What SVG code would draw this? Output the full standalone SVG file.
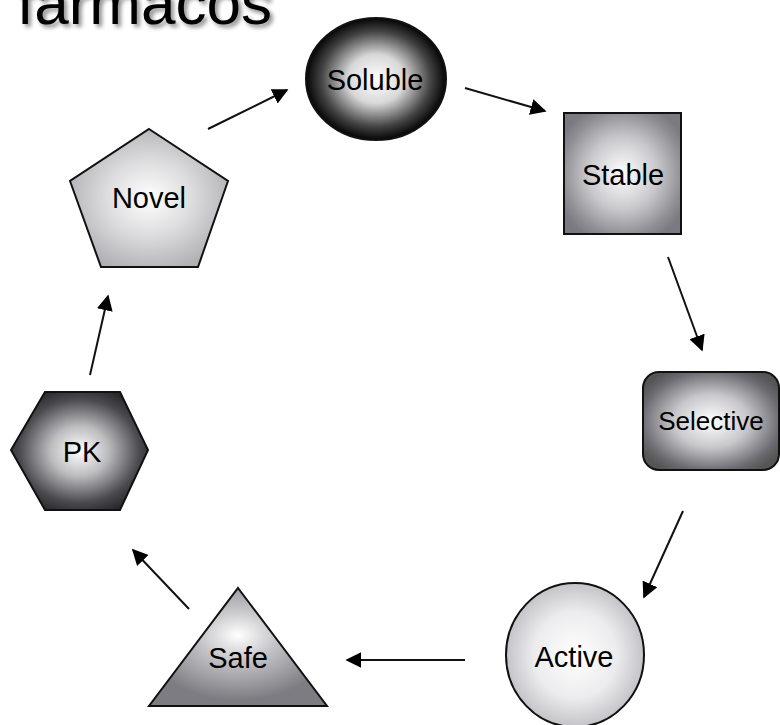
<svg xmlns="http://www.w3.org/2000/svg" width="780" height="725" viewBox="0 0 780 725">
<defs>
<radialGradient id="gSol" cx="0.5" cy="0.5" r="0.5"><stop offset="0" stop-color="#ffffff"/><stop offset="0.4" stop-color="#d8d8d8"/><stop offset="0.78" stop-color="#444"/><stop offset="1" stop-color="#050505"/></radialGradient>
<radialGradient id="gSta" cx="0.5" cy="0.5" r="0.6"><stop offset="0" stop-color="#ffffff"/><stop offset="0.5" stop-color="#c8c8cc"/><stop offset="0.85" stop-color="#8e8e94"/><stop offset="1" stop-color="#7a7a80"/></radialGradient>
<radialGradient id="gSel" cx="0.5" cy="0.5" r="0.6"><stop offset="0" stop-color="#ffffff"/><stop offset="0.45" stop-color="#c8c8cc"/><stop offset="0.85" stop-color="#6a6a70"/><stop offset="1" stop-color="#555"/></radialGradient>
<radialGradient id="gAct" cx="0.5" cy="0.5" r="0.5"><stop offset="0" stop-color="#ffffff"/><stop offset="0.6" stop-color="#ececee"/><stop offset="1" stop-color="#c4c4c8"/></radialGradient>
<radialGradient id="gSafe" cx="0.5" cy="0.4" r="0.55"><stop offset="0" stop-color="#ffffff"/><stop offset="0.4" stop-color="#c4c4c8"/><stop offset="1" stop-color="#7c7c82"/></radialGradient>
<radialGradient id="gPK" cx="0.5" cy="0.5" r="0.55"><stop offset="0" stop-color="#ffffff"/><stop offset="0.38" stop-color="#bdbdc0"/><stop offset="0.8" stop-color="#4a4a4e"/><stop offset="1" stop-color="#2a2a2e"/></radialGradient>
<radialGradient id="gNov" cx="0.5" cy="0.5" r="0.55"><stop offset="0" stop-color="#ffffff"/><stop offset="0.5" stop-color="#dcdcde"/><stop offset="1" stop-color="#b0b0b4"/></radialGradient>
<filter id="sh" x="-10%" y="-30%" width="130%" height="180%"><feDropShadow dx="3" dy="3" stdDeviation="2" flood-color="#000" flood-opacity="0.45"/></filter>
<marker id="ah" viewBox="0 0 10 10" refX="9" refY="5" markerWidth="8" markerHeight="8" markerUnits="strokeWidth" orient="auto"><path d="M0,0 L10,5 L0,10 z" fill="#000"/></marker>
</defs>
<style>
.shape{stroke:#111;stroke-width:2}
.lbl{font-family:"Liberation Sans",Arial,sans-serif;font-size:29px;fill:#000;text-anchor:middle}
.conn line{stroke:#111;stroke-width:2;marker-end:url(#ah)}
</style>
<rect width="780" height="725" fill="#fff"/>
<text x="17" y="24" font-family="Liberation Sans, Arial, sans-serif" font-size="62" fill="#000" filter="url(#sh)">fármacos</text>
<g id="soluble"><ellipse class="shape" cx="376" cy="79" rx="70" ry="61" fill="url(#gSol)"/><text class="lbl" x="375" y="90">Soluble</text></g>
<g id="stable"><rect class="shape" x="564" y="113" width="117" height="121" fill="url(#gSta)"/><text class="lbl" x="623" y="185">Stable</text></g>
<g id="selective"><rect class="shape" x="643" y="372" width="136" height="98" rx="16" fill="url(#gSel)"/><text class="lbl" x="711" y="430" style="font-size:26px">Selective</text></g>
<g id="active"><ellipse class="shape" cx="575" cy="655" rx="69" ry="72" fill="url(#gAct)"/><text class="lbl" x="574" y="667">Active</text></g>
<g id="safe"><polygon class="shape" points="238,588 327,706 149,706" fill="url(#gSafe)"/><text class="lbl" x="238" y="668">Safe</text></g>
<g id="pk"><polygon class="shape" points="11,450 45,392 120,392 148,450 120,510 45,510" fill="url(#gPK)"/><text class="lbl" x="82" y="462">PK</text></g>
<g id="novel"><polygon class="shape" points="149,129 228,181 198,267 101,267 70,181" fill="url(#gNov)"/><text class="lbl" x="149" y="208">Novel</text></g>
<g class="conn" id="connectors">
<line x1="208" y1="129" x2="287" y2="90"/>
<line x1="465" y1="88" x2="545" y2="111"/>
<line x1="668" y1="257" x2="702" y2="350"/>
<line x1="683" y1="511" x2="644" y2="597"/>
<line x1="465" y1="660" x2="347" y2="660"/>
<line x1="189" y1="609" x2="133" y2="550"/>
<line x1="90" y1="375" x2="108" y2="296"/>
</g>
</svg>
